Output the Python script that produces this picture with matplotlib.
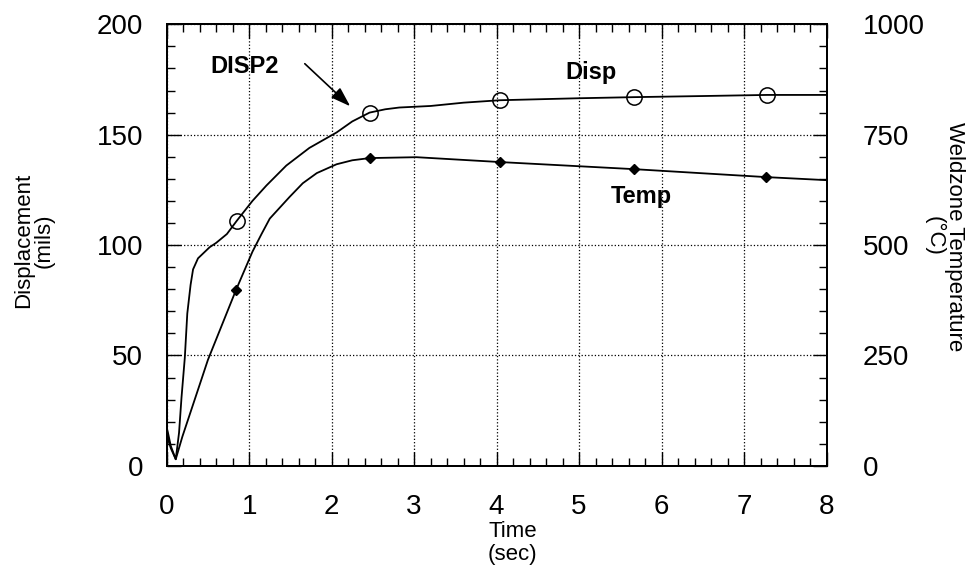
import matplotlib
matplotlib.use("Agg")
import matplotlib.pyplot as plt
from matplotlib.ticker import MultipleLocator

plt.rcParams.update({
    "font.family": ["Liberation Sans", "DejaVu Sans"],
    "axes.linewidth": 1.4,
})

# displacement trace (mils)
disp_t = [0.0, 0.01, 0.05, 0.11, 0.15, 0.18, 0.22, 0.25, 0.29, 0.32, 0.38, 0.52,
          0.6, 0.73, 0.85, 1.04, 1.21, 1.45, 1.73, 2.06, 2.25, 2.46, 2.65, 2.82,
          3.2, 3.6, 4.04, 5.0, 5.67, 6.5, 7.28, 8.0]
disp_v = [0, 16, 9, 3, 15, 31, 49, 69, 82, 89, 94, 99,
          101, 105, 111, 120, 127, 136, 144, 151, 156, 160, 161.5, 162.3,
          163, 164.5, 165.6, 166.5, 167, 167.5, 168, 168]
disp_mk_t = [0.85, 2.46, 4.04, 5.67, 7.28]
disp_mk_v = [111, 160, 165.6, 167, 168]

# weldzone temperature trace (deg C)
temp_t = [0.0, 0.05, 0.11, 0.19, 0.42, 0.5, 0.84, 1.04, 1.15, 1.25, 1.49, 1.65,
          1.82, 2.06, 2.25, 2.46, 3.03, 4.04, 5.66, 7.26, 8.0]
temp_v = [70, 40, 15, 66, 195, 240, 398, 485, 525, 560, 609, 640,
          663, 683, 692, 697, 699, 688, 672, 654, 647]
temp_mk_t = [0.84, 2.46, 4.04, 5.66, 7.26]
temp_mk_v = [398, 697, 688, 672, 654]

fig = plt.figure(figsize=(9.69, 5.78), dpi=100)
ax = fig.add_axes([0.172, 0.194, 0.681, 0.764])
ax2 = ax.twinx()

ax.plot(disp_t, disp_v, color="black", linewidth=1.3)
ax.plot(disp_mk_t, disp_mk_v, linestyle="none", marker="o", markersize=11,
        markerfacecolor="none", markeredgecolor="black", markeredgewidth=1.1)
ax2.plot(temp_t, temp_v, color="black", linewidth=1.3)
ax2.plot(temp_mk_t, temp_mk_v, linestyle="none", marker="D", markersize=5,
         color="black")

ax.set_xlim(0, 8)
ax.set_ylim(0, 200)
ax2.set_ylim(0, 1000)

ax.xaxis.set_major_locator(MultipleLocator(1))
ax.xaxis.set_minor_locator(MultipleLocator(0.2))
ax.yaxis.set_major_locator(MultipleLocator(50))
ax.yaxis.set_minor_locator(MultipleLocator(10))
ax2.yaxis.set_major_locator(MultipleLocator(250))
ax2.yaxis.set_minor_locator(MultipleLocator(50))

ax.grid(True, which="major", linestyle=":", color="black", linewidth=0.9)

ax.tick_params(which="both", direction="in", top=True, labelsize=20)
ax.tick_params(which="major", length=10, width=1.0)
ax.tick_params(which="minor", length=6, width=1.0)
ax.tick_params(axis="x", pad=20)
ax.tick_params(axis="y", pad=17)
ax2.tick_params(which="both", direction="in", labelsize=20)
ax2.tick_params(which="major", length=10, width=1.0, pad=26)
ax2.tick_params(which="minor", length=6, width=1.0)

ax.set_xlabel("Time\n(sec)", fontsize=16, linespacing=1.1)
ax.xaxis.set_label_coords(0.524, -0.125)
ax.set_ylabel("Displacement\n(mils)", fontsize=16, linespacing=0.95)
ax.yaxis.set_label_coords(-0.17, 0.51)
ax2.set_ylabel("Weldzone Temperature\n(°C)", fontsize=16, rotation=270,
               linespacing=0.95, multialignment="center")
ax2.yaxis.set_label_coords(1.21, 0.52)

ax.text(0.95, 181, "DISP2", fontsize=17, fontweight="bold", ha="center", va="center")
ax.annotate("", xy=(2.25, 162), xytext=(1.65, 183),
            arrowprops=dict(arrowstyle="-|>,head_length=1.2,head_width=0.4",
                            color="black", linewidth=1.2))
ax.text(5.14, 178, "Disp", fontsize=17, fontweight="bold", ha="center", va="center")
ax.text(5.76, 122, "Temp", fontsize=17, fontweight="bold", ha="center", va="center")

fig.savefig("out.png", dpi=100, facecolor="white")
